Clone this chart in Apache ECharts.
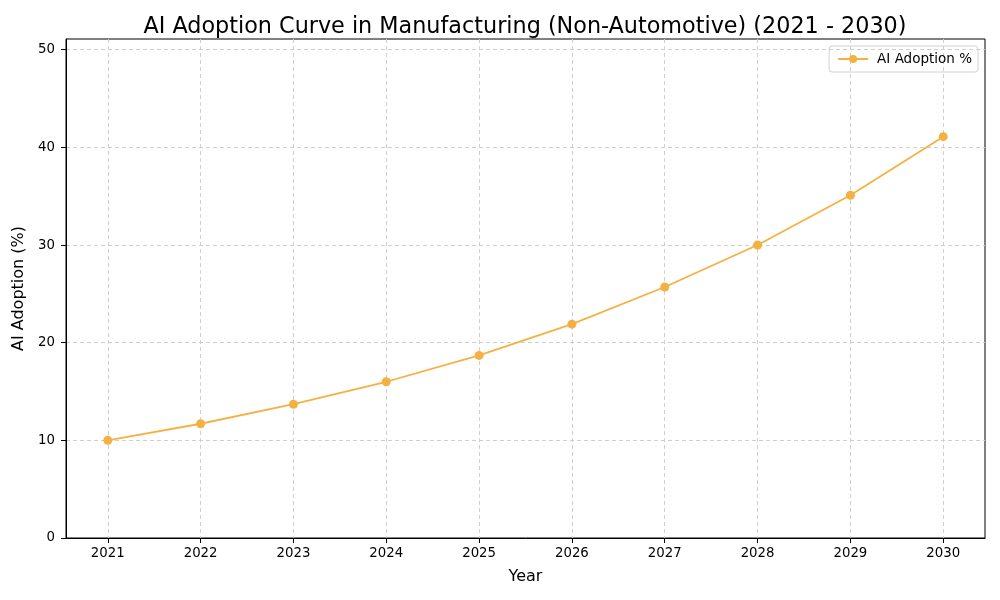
<!DOCTYPE html>
<html>
<head>
<meta charset="utf-8">
<script src="https://cdn.jsdelivr.net/npm/echarts@6/dist/echarts.min.js"></script>
<style>html,body{margin:0;padding:0;background:#fff}#c{width:1000px;height:600px}</style>
</head>
<body>
<div id="c"></div>
<script>
const years = [2021, 2022, 2023, 2024, 2025, 2026, 2027, 2028, 2029, 2030];
const adoption = [10, 11.7, 13.7, 16.0, 18.7, 21.9, 25.7, 30.0, 35.1, 41.1];
const yTicks = [0, 10, 20, 30, 40, 50];
const seriesName = 'AI Adoption %';

const chart = echarts.init(document.getElementById('c'));
const font = 'DejaVu Sans';
chart.setOption({
  animation: false,
  textStyle: { fontFamily: font },
  title: {
    text: 'AI Adoption Curve in Manufacturing (Non-Automotive) (2021 - 2030)',
    left: 520, top: 11, textAlign: 'center',
    textStyle: { fontFamily: font, fontSize: 22.3, fontWeight: 'normal', color: '#000' }
  },
  legend: {
    right: 22, top: 46,
    data: [seriesName],
    itemWidth: 30, itemHeight: 10, itemGap: 8,
    padding: [6, 6, 6, 8],
    borderColor: '#d0d0d0', borderWidth: 1, borderRadius: 3,
    textStyle: { fontFamily: font, fontSize: 13.5, color: '#000', padding: [0, 0, 0, 4] }
  },
  grid: { left: 66, right: 15, top: 39, bottom: 62, show: true, borderColor: '#000', borderWidth: 1, containLabel: false },
  xAxis: {
    type: 'value', min: 2020.55, max: 2030.45,
    name: 'Year', nameLocation: 'middle', nameGap: 31,
    nameTextStyle: { fontFamily: font, fontSize: 16, color: '#000' },
    axisLine: { show: true, lineStyle: { color: '#000' } },
    axisTick: { show: true, customValues: years, length: 5, lineStyle: { color: '#000' } },
    axisLabel: { customValues: years, fontFamily: font, fontSize: 13.3, color: '#000', margin: 9, formatter: v => String(v) },
    splitLine: { show: true, customValues: years, lineStyle: { color: '#cfcfcf', type: [4, 3], width: 1 } }
  },
  yAxis: {
    type: 'value', min: 0, max: 51.1, interval: 10,
    name: 'AI Adoption (%)', nameLocation: 'middle', nameGap: 34, nameRotate: 90,
    nameTextStyle: { fontFamily: font, fontSize: 16, color: '#000' },
    axisLine: { show: true, lineStyle: { color: '#000' } },
    axisTick: { show: true, customValues: yTicks, length: 5, lineStyle: { color: '#000' } },
    axisLabel: { customValues: yTicks, fontFamily: font, fontSize: 13.3, color: '#000', margin: 11 },
    splitLine: { show: true, lineStyle: { color: '#cfcfcf', type: [4, 3], width: 1 } }
  },
  series: [{
    name: seriesName,
    type: 'line',
    data: years.map((y, i) => [y, adoption[i]]),
    symbol: 'circle', symbolSize: 9,
    itemStyle: { color: '#F4B142' },
    lineStyle: { color: '#F4B142', width: 1.8 }
  }]
});
</script>
</body>
</html>
